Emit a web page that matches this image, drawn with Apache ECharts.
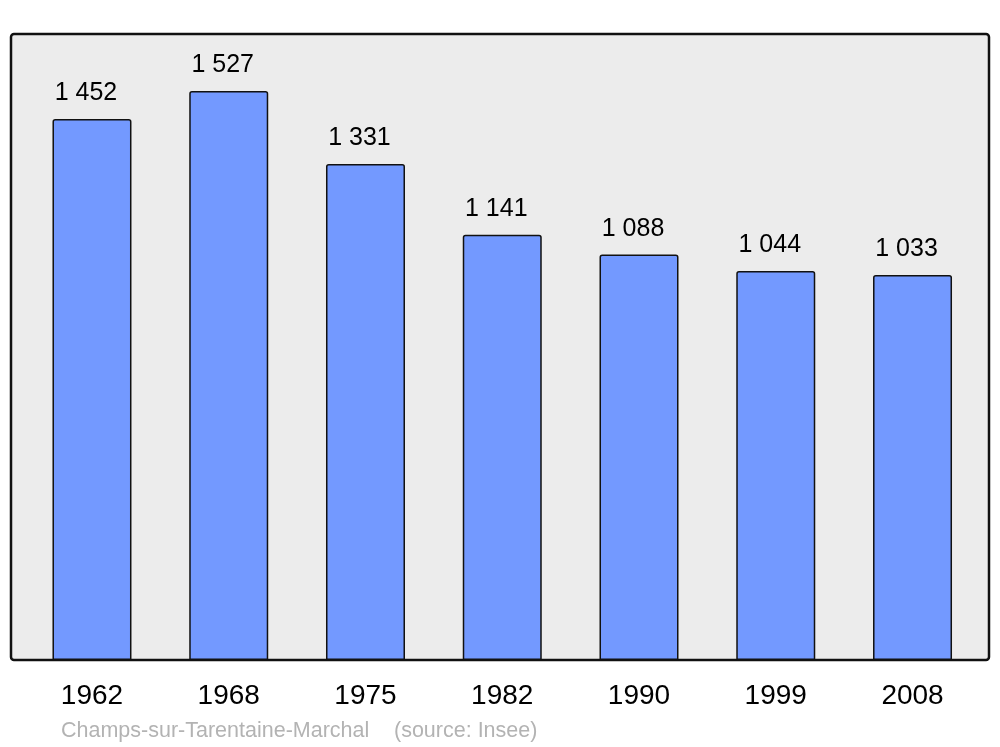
<!DOCTYPE html>
<html>
<head>
<meta charset="utf-8">
<script src="https://cdn.jsdelivr.net/npm/echarts@6/dist/echarts.min.js"></script>
<style>
html,body{margin:0;padding:0;background:#fff;}
#chart{width:1000px;height:747px;}
</style>
</head>
<body>
<div id="chart"></div>
<script>
const years = ['1962', '1968', '1975', '1982', '1990', '1999', '2008'];
const population = [1452, 1527, 1331, 1141, 1088, 1044, 1033];
const footerName = 'Champs-sur-Tarentaine-Marchal';
const footerSource = '(source: Insee)';

function fmt(v) {
  return String(v).replace(/\B(?=(\d{3})+(?!\d))/g, ' ');
}

const chart = echarts.init(document.getElementById('chart'), null, {renderer: 'canvas'});
chart.setOption({
  animation: false,
  backgroundColor: '#ffffff',
  textStyle: {fontFamily: '"Liberation Sans", Arial, sans-serif'},
  grid: {left: 23.6, right: 19.1, top: 34, bottom: 87, containLabel: false},
  graphic: [
    {
      type: 'rect', z: -10,
      shape: {x: 11, y: 34, width: 978, height: 626, r: 3},
      style: {fill: '#ececec', stroke: '#111', lineWidth: 2.5}
    },
    {
      type: 'text', left: 61, top: 720,
      style: {text: footerName, fill: '#b3b3b3', font: '21.5px "Liberation Sans", Arial, sans-serif'}
    },
    {
      type: 'text', left: 394, top: 720,
      style: {text: footerSource, fill: '#b3b3b3', font: '21.5px "Liberation Sans", Arial, sans-serif'}
    }
  ],
  xAxis: {
    type: 'category',
    data: years,
    axisLine: {show: false},
    axisTick: {show: false},
    axisLabel: {
      color: '#000', fontSize: 28, margin: 22,
      fontFamily: '"Liberation Sans", Arial, sans-serif'
    }
  },
  yAxis: {
    type: 'value', min: 0, max: 1680,
    show: false,
    splitLine: {show: false}
  },
  series: [{
    type: 'bar',
    data: population,
    barWidth: 79,
    itemStyle: {color: '#7399ff', borderColor: '#111', borderWidth: 1.5, borderRadius: [2, 2, 0, 0]},
    label: {
      show: true, position: 'top', distance: 13, offset: [-6, 0],
      color: '#000', fontSize: 25,
      fontFamily: '"Liberation Sans", Arial, sans-serif',
      formatter: p => fmt(p.value)
    }
  }]
});
</script>
</body>
</html>
